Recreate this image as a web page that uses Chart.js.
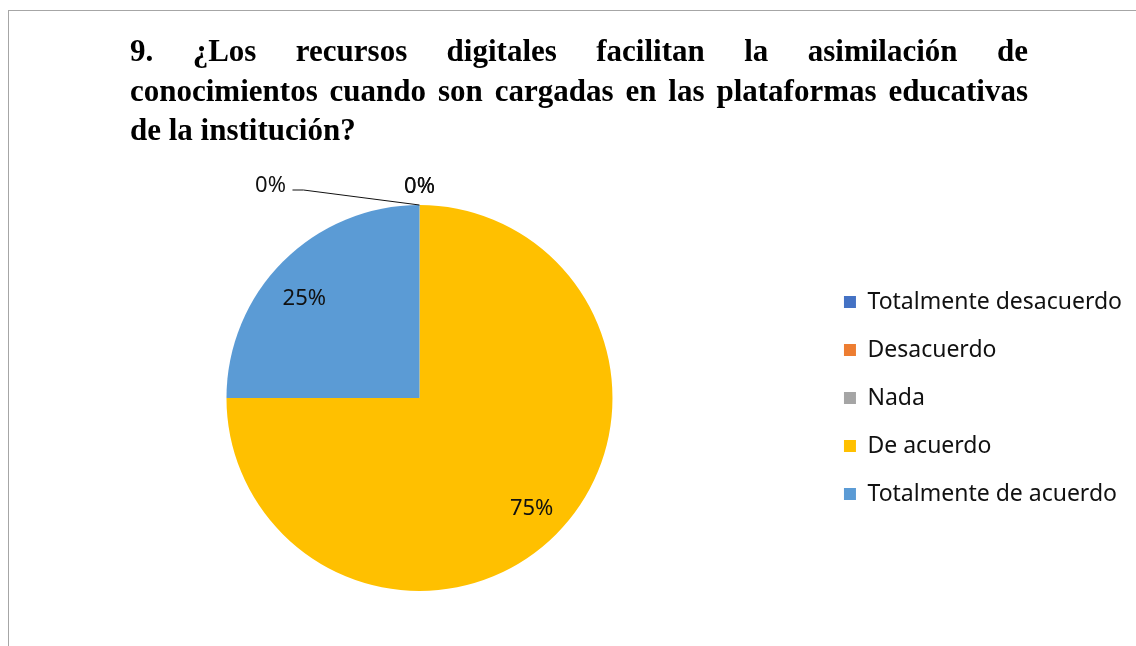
<!DOCTYPE html>
<html lang="es">
<head>
<meta charset="utf-8">
<script src="https://cdn.jsdelivr.net/npm/chart.js@4"></script>
<style>
  html, body { margin: 0; padding: 0; background: #fff; }
  body { width: 1136px; height: 646px; position: relative; overflow: hidden; }
  #frame {
    position: absolute; left: 8px; top: 10px; right: 0; bottom: 0;
    border-top: 1px solid #a6a6a6; border-left: 1px solid #a6a6a6;
  }
  #titulo {
    position: absolute; left: 130px; top: 31px; width: 898px;
    font-family: "Liberation Serif", "Times New Roman", serif;
    font-weight: bold; font-size: 31px; line-height: 39.5px; color: #000;
  }
  #titulo .linea { text-align: justify; text-align-last: justify; white-space: nowrap; }
  #titulo .ultima { text-align: left; }
  #grafico { position: absolute; left: 0; top: 0; }
</style>
</head>
<body>
<div id="frame"></div>
<canvas id="grafico" width="1136" height="646"></canvas>
<div id="titulo">
  <div class="linea">9. ¿Los recursos digitales facilitan la asimilación de</div>
  <div class="linea">conocimientos cuando son cargadas en las plataformas educativas</div>
  <div class="ultima">de la institución?</div>
</div>
<script>
// datos de la pregunta 9
const categorias = ["Totalmente desacuerdo", "Desacuerdo", "Nada", "De acuerdo", "Totalmente de acuerdo"];
const porcentajes = [0, 0, 0, 75, 25];
const colores = ["#4472C4", "#ED7D31", "#A5A5A5", "#FFC000", "#5B9BD5"];

const FUENTE = "'Noto Sans', 'Open Sans', sans-serif";

// ajuste fino de cada etiqueta (px), como las coloca Excel
const AJUSTE_ETIQUETA = { 3: [3, 2], 4: [-6, 10] };

// etiquetas de porcentaje sobre cada sector
const etiquetasPlugin = {
    id: "etiquetas",
    afterDatasetsDraw(chart) {
        const ctx = chart.ctx;
        const arcos = chart.getDatasetMeta(0).data;
        ctx.save();
        ctx.font = `22px ${FUENTE}`;
        ctx.fillStyle = "#111";
        ctx.textAlign = "center";
        ctx.textBaseline = "middle";
        arcos.forEach((arco, i) => {
            const { x, y, startAngle, endAngle, outerRadius } = arco.getProps(["x", "y", "startAngle", "endAngle", "outerRadius"], true);
            const texto = `${porcentajes[i]}%`;
            if (porcentajes[i] > 0) {
                const medio = (startAngle + endAngle) / 2;
                const [ax, ay] = AJUSTE_ETIQUETA[i] || [0, 0];
                ctx.fillText(texto, x + Math.cos(medio) * outerRadius * 0.8 + ax, y + Math.sin(medio) * outerRadius * 0.8 + ay);
                return;
            }
            // sectores vacíos: encima del círculo
            const px = x + Math.cos(startAngle) * outerRadius;
            const py = y + Math.sin(startAngle) * outerRadius;
            if (i === 0) {
                ctx.strokeStyle = "#111";
                ctx.lineWidth = 1;
                ctx.beginPath();
                ctx.moveTo(px, py);
                ctx.lineTo(px - 116, py - 15);
                ctx.lineTo(px - 127, py - 15);
                ctx.stroke();
                ctx.fillText(texto, px - 149, py - 19);
            } else {
                ctx.fillText(texto, px, py - 18);
            }
        });
        ctx.restore();
    }
};

new Chart(document.getElementById("grafico"), {
    type: "pie",
    data: {
        labels: categorias,
        datasets: [{
            data: porcentajes,
            backgroundColor: colores,
            borderWidth: 0
        }]
    },
    options: {
        responsive: false,
        devicePixelRatio: 1,
        animation: false,
        layout: { padding: { top: 205, bottom: 55, left: 20, right: 4 } },
        plugins: {
            tooltip: { enabled: false },
            legend: {
                position: "right",
                labels: {
                    boxWidth: 12,
                    boxHeight: 12,
                    padding: 25,
                    color: "#111",
                    font: { family: FUENTE, size: 23 }
                }
            }
        }
    },
    plugins: [etiquetasPlugin]
});
</script>
</body>
</html>
